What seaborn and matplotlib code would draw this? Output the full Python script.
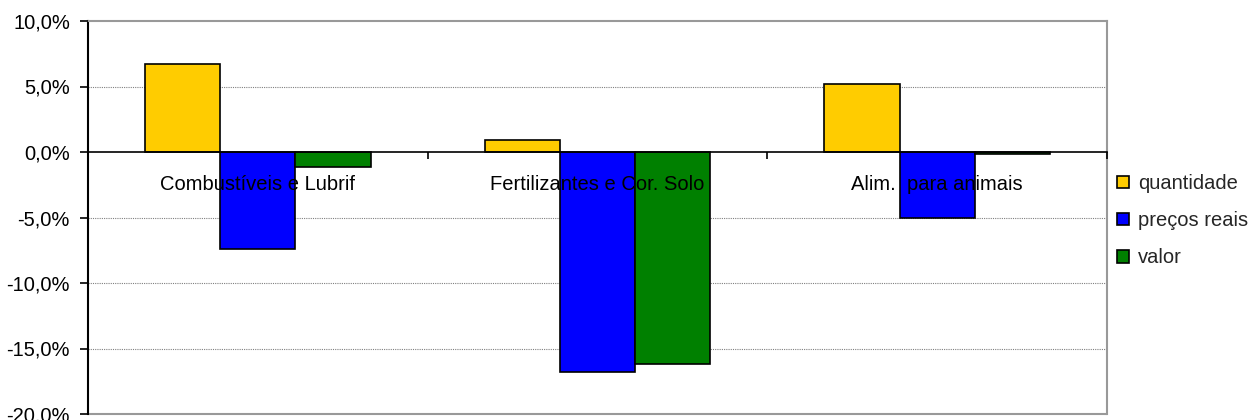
import matplotlib
matplotlib.use("Agg")
import matplotlib.pyplot as plt
import seaborn as sns
import pandas as pd
from matplotlib.ticker import FuncFormatter, FixedLocator
from matplotlib.patches import Patch

categories = ["Combustíveis e Lubrif", "Fertilizantes e Cor. Solo", "Alim.  para animais"]
series = ["quantidade", "preços reais", "valor"]
quantidade = [6.7, 0.9, 5.2]
precos_reais = [-7.4, -16.8, -5.0]
valor = [-1.15, -16.2, -0.15]
colors = ["#FFCC00", "#0000FF", "#008000"]

rows = []
for s, vals in zip(series, [quantidade, precos_reais, valor]):
    for c, v in zip(categories, vals):
        rows.append({"cat": c, "serie": s, "v": v})
df = pd.DataFrame(rows)

sns.set_theme(style="white")
plt.rcParams["font.family"] = ["Liberation Sans", "DejaVu Sans"]

FS = 14.5
fig = plt.figure(figsize=(12.54, 4.2), dpi=100)
ax = fig.add_axes([88/1254, 1-414/420, (1107-88)/1254, (414-21)/420])

sns.barplot(data=df, x="cat", y="v", hue="serie", order=categories, hue_order=series,
            palette=colors, width=0.664, edgecolor="black", linewidth=1.2,
            saturation=1, errorbar=None, ax=ax, legend=False)
ax.set_axisbelow(False)

ax.set_ylim(-20, 10)
ax.set_xlim(-0.5, len(categories) - 0.5)
ax.yaxis.set_major_locator(FixedLocator([-20, -15, -10, -5, 0, 5, 10]))
ax.yaxis.set_major_formatter(FuncFormatter(lambda y, p: f"{y:.1f}%".replace(".", ",")))
ax.set_xlabel("")
ax.set_ylabel("")
ax.grid(False)
for y in [-15, -10, -5, 5]:
    ax.axhline(y, color="#808080", lw=0.8, ls=(0, (1, 1)), zorder=0.5)

ax.spines["bottom"].set_position(("data", 0))
ax.spines["bottom"].set_color("black")
ax.spines["bottom"].set_linewidth(1.2)
ax.spines["left"].set_color("black")
ax.spines["left"].set_linewidth(1.5)
for s in ["top", "right"]:
    ax.spines[s].set_color("#999999")
    ax.spines[s].set_linewidth(1.5)
ax.plot([0, 1], [0, 0], transform=ax.transAxes, color="#999999", lw=1.5, clip_on=False, zorder=0.6)

ax.tick_params(axis="y", which="major", direction="out", length=6, width=1.2, color="black",
               left=True, labelsize=FS, pad=7, labelcolor="black")
ax.tick_params(axis="x", which="major", length=0, pad=16.5, labelsize=FS, labelcolor="black")
ax.xaxis.set_minor_locator(FixedLocator([0.5, 1.5, 2.5]))
ax.tick_params(axis="x", which="minor", direction="out", length=5, width=1.2, color="black", bottom=True)

handles = [Patch(facecolor=c, edgecolor="black", linewidth=1.2, label=s) for c, s in zip(colors, series)]
leg = fig.legend(handles=handles, loc="upper left", bbox_to_anchor=(1117/1254, 1-174/420),
                 frameon=False, fontsize=FS, handlelength=0.6, handleheight=0.6,
                 handletextpad=0.45, labelspacing=0.9, borderaxespad=0, borderpad=0)

fig.savefig("out.png", dpi=100)
